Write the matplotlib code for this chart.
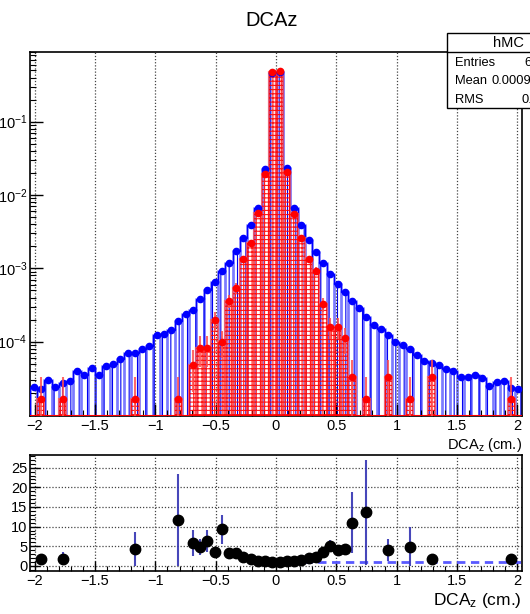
import numpy as np
import matplotlib
matplotlib.use('Agg')
import matplotlib.pyplot as plt
from matplotlib.ticker import MultipleLocator, FuncFormatter, LogLocator, NullFormatter, FixedLocator
from matplotlib.patches import Rectangle
from matplotlib.lines import Line2D

plt.rcParams['font.family'] = ['Liberation Sans', 'DejaVu Sans']
plt.rcParams['mathtext.default'] = 'regular'
plt.rcParams['hatch.linewidth'] = 0.8

# ---------------- data ----------------
x_min, x_max, n_bins = -2.04, 2.04, 68

# blue histogram (hMC), normalised per bin
mc_vals = [2.39e-5, 2.25e-5, 3.0e-5, 2.43e-5, 2.70e-5, 2.94e-5, 4.02e-5, 3.55e-5,
           4.38e-5, 3.55e-5, 4.66e-5, 4.96e-5, 5.75e-5, 6.95e-5, 6.95e-5, 8.02e-5,
           8.73e-5, 1.22e-4, 1.27e-4, 1.44e-4, 1.90e-4, 2.39e-4, 2.71e-4, 3.86e-4,
           5.07e-4, 6.59e-4, 9.27e-4, 1.19e-3, 1.70e-3, 2.59e-3, 3.93e-3, 6.65e-3,
           2.26e-2, 0.46, 0.47, 2.33e-2, 6.65e-3, 3.86e-3, 2.43e-3, 1.67e-3,
           1.17e-3, 8.35e-4, 6.12e-4, 4.76e-4, 3.56e-4, 2.88e-4, 2.19e-4, 1.71e-4,
           1.50e-4, 1.22e-4, 9.9e-5, 8.93e-5, 8.02e-5, 6.65e-5, 5.51e-5, 5.07e-5,
           4.85e-5, 4.20e-5, 3.94e-5, 3.27e-5, 3.27e-5, 3.55e-5, 3.20e-5, 2.49e-5,
           2.82e-5, 2.94e-5, 2.33e-5, 2.29e-5]

# red histogram (data), normalised per bin
data_vals = [0, 1.64e-5, 0, 0, 1.64e-5, 0, 0, 0,
             0, 0, 0, 0, 0, 0, 1.64e-5, 0,
             0, 0, 0, 0, 1.64e-5, 0, 4.85e-5, 8.2e-5,
             8.2e-5, 1.98e-4, 9.9e-5, 3.62e-4, 5.4e-4, 1.33e-3, 2.23e-3, 5.74e-3,
             1.91e-2, 0.481, 0.49, 2.04e-2, 5.51e-3, 2.59e-3, 1.33e-3, 9.27e-4,
             3.27e-4, 1.60e-4, 1.60e-4, 1.12e-4, 3.27e-5, 0, 1.64e-5, 0,
             0, 3.27e-5, 0, 0, 1.64e-5, 0, 0, 3.27e-5,
             0, 0, 0, 0, 0, 0, 0, 0,
             0, 0, 1.64e-5, 0]

data_errs = [0, 1.64e-5, 0, 0, 1.64e-5, 0, 0, 0,
             0, 0, 0, 0, 0, 0, 1.64e-5, 0,
             0, 0, 0, 0, 1.64e-5, 0, 2.8e-5, 3.7e-5,
             3.7e-5, 5.7e-5, 4.0e-5, 7.7e-5, 9.4e-5, 1.5e-4, 1.9e-4, 3.1e-4,
             5.6e-4, 2.8e-3, 2.8e-3, 5.8e-4, 3.0e-4, 2.1e-4, 1.5e-4, 1.2e-4,
             7.3e-5, 5.1e-5, 5.1e-5, 4.3e-5, 2.3e-5, 0, 1.64e-5, 0,
             0, 2.3e-5, 0, 0, 1.64e-5, 0, 0, 2.3e-5,
             0, 0, 0, 0, 0, 0, 0, 0,
             0, 0, 1.64e-5, 0]

# ratio panel (bins that have data)
ratio_bins = [1, 4, 14, 20, 22, 23, 24, 25, 26, 27, 28, 29, 30, 31, 32, 33, 34,
              35, 36, 37, 38, 39, 40, 41, 42, 43, 44, 46, 49, 52, 55, 66]
ratio_vals = [1.7, 1.86, 4.25, 11.7, 5.77, 4.75, 6.3, 3.56, 9.3, 3.4, 3.4, 2.2,
              1.86, 1.35, 1.2, 1.0, 0.97, 1.15, 1.3, 1.6, 2.0, 2.2, 3.56, 5.1,
              4.07, 4.25, 11.0, 13.6, 4.07, 4.9, 1.7, 1.7]
ratio_errs = [1.2, 1.7, 4.25, 11.7, 3.3, 2.0, 2.8, 1.0, 3.7, 0.75, 0.6, 0.25,
              0.15, 0.08, 0.04, 0.01, 0.01, 0.04, 0.08, 0.13, 0.25, 0.3, 0.6, 1.5,
              1.0, 1.3, 7.8, 13.4, 2.8, 5.0, 1.2, 1.2]

x_ticks = [-2, -1.5, -1, -0.5, 0, 0.5, 1, 1.5, 2]
y_ticks_top = [1e-4, 1e-3, 1e-2, 1e-1]
stats_labels = ['Entries', 'Mean', 'RMS']
stats_values = ['60521', '0.00093482', '0.1166']

# ---------------- figure ----------------
W, H = 530, 614
fig = plt.figure(figsize=(W / 100, H / 100), dpi=100)


def fx(px):
    return px / W


def fy(py):
    return 1 - py / H


edges = np.linspace(x_min, x_max, n_bins + 1)
centers = 0.5 * (edges[:-1] + edges[1:])
width = edges[1] - edges[0]
mc = np.array(mc_vals)
dt = np.array(data_vals)
de = np.array(data_errs)

ax = fig.add_axes([fx(30), fy(416), fx(522) - fx(30), fy(51.7) - fy(416)])
ax.set_yscale('log')
ylo, yhi = 9.7e-6, 0.9
base = 1e-7

# blue histogram: translucent bin outlines + vertical hatch
ax.bar(centers, mc - base, width=width, bottom=base, color='none',
       edgecolor=(0.45, 0.45, 1.0, 0.75), linewidth=1.8, zorder=2)
ax.bar(centers, mc - base, width=width, bottom=base, color='none',
       edgecolor=(0.0, 0.0, 0.95), linewidth=0, hatch='||', zorder=2)
ax.stairs(mc, edges, color='blue', lw=1.0, zorder=3)

# red histogram: grid hatch
m = dt > 0
ax.bar(centers[m], dt[m] - base, width=width, bottom=base, color='none',
       edgecolor=(1.0, 0.35, 0.35, 0.8), linewidth=1.6, zorder=4)
ax.bar(centers[m], dt[m] - base, width=width, bottom=base, color='none',
       edgecolor=(1.0, 0.0, 0.0, 0.9), linewidth=0, hatch='++++', zorder=4)
ax.axhline(ylo, color='red', lw=1.5, zorder=4)

ax.plot(centers, mc, 'o', color='blue', ms=4.5, zorder=6)
ax.errorbar(centers[m], dt[m], yerr=de[m], fmt='none', ecolor=(1.0, 0.3, 0.3, 0.85),
            elinewidth=1.5, zorder=6)
ax.plot(centers[m], dt[m], 'o', color='red', ms=4.5, zorder=7)

ax.set_xlim(x_min, x_max)
ax.set_ylim(ylo, yhi)

fmt = FuncFormatter(lambda v, p: ('%g' % v).replace('-', '\u2212'))
ax.xaxis.set_major_locator(FixedLocator(x_ticks))
ax.xaxis.set_minor_locator(MultipleLocator(0.1))
ax.xaxis.set_major_formatter(fmt)
ax.yaxis.set_major_locator(FixedLocator(y_ticks_top))
ax.yaxis.set_minor_locator(LogLocator(base=10, subs=np.arange(2, 10), numticks=20))
ax.yaxis.set_minor_formatter(NullFormatter())
ax.tick_params(which='both', direction='in', top=False, right=False, labelsize=10.5)
ax.tick_params(which='major', length=9, width=1)
ax.tick_params(which='minor', length=4.5, width=0.8)
ax.tick_params(axis='x', pad=2)
ax.tick_params(axis='y', pad=2)
ax.grid(axis='x', which='major', ls=(0, (1, 1.5)), color='#444444', lw=0.9)
ax.set_axisbelow(False)
for s in ax.spines.values():
    s.set_linewidth(1.2)
ax.set_xlabel('DCA$_z$ (cm.)', fontsize=10.5, ha='right')
ax.xaxis.set_label_coords(1.0, -0.055)

# ---------------- ratio panel ----------------
ax2 = fig.add_axes([fx(30), fy(571), fx(522) - fx(30), fy(454.7) - fy(571)])
rb = np.array(ratio_bins)
ax2.hlines(1.0, 0.0, x_max, colors=(0.35, 0.35, 1.0), linestyles=(0, (3, 2)), lw=2, zorder=2)
ax2.errorbar(centers[rb], ratio_vals, yerr=ratio_errs, fmt='none',
             ecolor=(0.2, 0.2, 0.7, 0.9), elinewidth=1.5, zorder=3)
ax2.plot(centers[rb], ratio_vals, 'o', color='black', ms=7.5, zorder=4)
ax2.set_xlim(x_min, x_max)
ax2.set_ylim(-1.3, 28.3)
ax2.xaxis.set_major_locator(FixedLocator(x_ticks))
ax2.xaxis.set_minor_locator(MultipleLocator(0.1))
ax2.xaxis.set_major_formatter(fmt)
ax2.yaxis.set_major_locator(MultipleLocator(5))
ax2.yaxis.set_minor_locator(MultipleLocator(1))
ax2.tick_params(which='both', direction='in', top=False, right=False, labelsize=10.5)
ax2.tick_params(which='major', length=7, width=1)
ax2.tick_params(which='minor', length=3.5, width=0.8)
ax2.tick_params(axis='x', pad=2)
ax2.tick_params(axis='y', pad=2)
ax2.grid(True, which='major', ls=(0, (1, 1.5)), color='#444444', lw=0.9)
for s in ax2.spines.values():
    s.set_linewidth(1.2)
ax2.set_xlabel('DCA$_z$ (cm.)', fontsize=12.5, ha='right')
ax2.xaxis.set_label_coords(1.0, -0.17)

# ---------------- title & stats box ----------------
fig.text(fx(272), fy(20), 'DCAz', ha='center', va='center', fontsize=14.5)

box = Rectangle((fx(447), fy(108)), fx(580) - fx(447), fy(33) - fy(108),
                transform=fig.transFigure, facecolor='white', edgecolor='black',
                lw=1.0, zorder=10)
fig.add_artist(box)
fig.add_artist(Line2D([fx(447), fx(580)], [fy(52), fy(52)], transform=fig.transFigure,
                      color='black', lw=1.0, zorder=11))
fig.text(fx(508), fy(43), 'hMC', ha='center', va='center', fontsize=10.5, zorder=12)
for i, (lab, val) in enumerate(zip(stats_labels, stats_values)):
    yy = fy(63 + 18.5 * i)
    fig.text(fx(455), yy, lab, ha='left', va='center', fontsize=9.3, zorder=12)
    fig.text(fx(560), yy, val, ha='right', va='center', fontsize=9.3, zorder=12)

fig.savefig('out.png', dpi=100)
